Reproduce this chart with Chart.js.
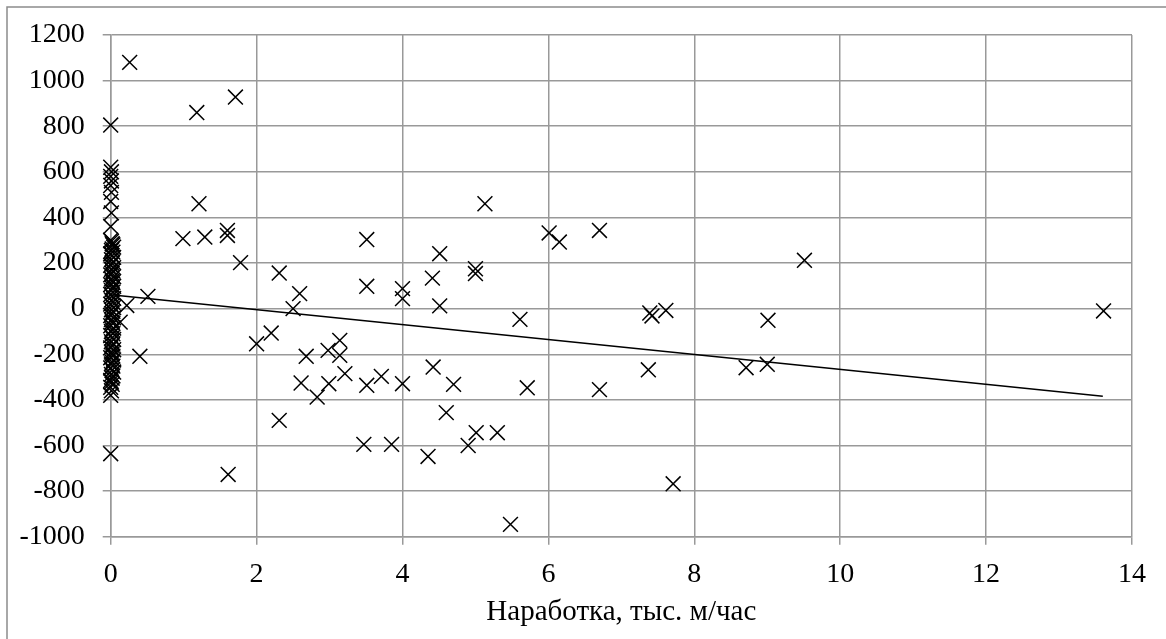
<!DOCTYPE html>
<html lang="ru">
<head>
    <meta charset="UTF-8">
    <title>Наработка</title>
    <script src="https://cdn.jsdelivr.net/npm/chart.js"></script>
    <style>
        html, body { margin: 0; padding: 0; background: #fff; }
        .chart-wrapper { position: relative; width: 1166px; height: 639px; }
    </style>
</head>
<body>
    <div class="chart-wrapper">
        <canvas id="scatterPlot" width="1166" height="639"></canvas>
    </div>

    <script>
        // Points sitting on (or very near) zero hours
        const clusterX = [
            0, 0.01, 0.02, 0.03, 0.04, 0.02, 0.01, 0.03, 0.0, 0.02, 0.04, 0.01, 0.03, 0.02, 0.0, 0.04,
            0.01, 0.03, 0.02, 0.0, 0.04, 0.01, 0.02, 0.03, 0.0, 0.04, 0.02, 0.01, 0.03, 0.0, 0.02, 0.04,
            0.01, 0.03, 0.0, 0.02, 0.04, 0.01, 0.03, 0.02, 0.0, 0.04, 0.01, 0.02, 0.03, 0.0, 0.04, 0.02,
            0.01, 0.03, 0.0, 0.02, 0.04, 0.01, 0.03, 0.02, 0.0, 0.04, 0.01, 0.02, 0.03, 0.0, 0.04, 0.02,
            0.01, 0.03, 0.0, 0.02, 0.04, 0.01, 0.03, 0.02, 0.0, 0.01, 0.02, 0.0, 0.01, 0.0,
            0.0, 0.01, 0.0, 0.01, 0.0, 0.01, 0.0, 0.01, 0.0, 0.0, 0.0
        ];
        const clusterY = [
            300, 295, 285, 280, 270, 262, 255, 248, 240, 232, 225, 215, 205, 198, 190, 180,
            172, 165, 155, 148, 140, 130, 122, 115, 105, 98, 90, 80, 72, 62, 55, 45,
            38, 28, 20, 12, 5, -5, -12, -22, -30, -40, -48, -58, -65, -75, -85, -92,
            -100, -110, -118, -128, -135, -145, -155, -162, -172, -180, -190, -198, -208, -215,
            -225, -235, -242, -252, -260, -270, -278, -288, -295, -305, -315, -322, -332, -345, -360, -380,
            360, 420, 470, 510, 540, 560, 580, 600, 620, 805, -636
        ];

        // The rest of the scatter
        const pointsX = [
            0.26, 1.18, 1.71, 1.21, 0.99, 1.29, 1.60, 1.60, 1.78, 2.31, 2.59, 2.50, 3.51, 3.51, 0.51, 0.22,
            0.13, 0.40, 2.00, 2.20, 2.68, 2.98, 3.14, 3.14, 3.21, 2.61, 2.99, 2.83, 2.31, 3.71, 3.51, 3.47,
            3.85, 1.61, 5.13, 6.01, 6.15, 6.70, 4.51, 4.41, 5.00, 5.00, 4.00, 4.00, 4.51, 5.61, 7.39, 7.42,
            7.61, 9.01, 4.42, 4.00, 4.70, 5.71, 6.70, 7.37, 8.71, 9.00, 4.60, 5.01, 5.30, 4.90, 4.35, 5.48,
            7.71, 9.51, 13.61
        ];
        const pointsY = [
            1080, 860, 928, 460, 307, 314, 343, 321, 202, 156, 66, 0, 303, 98, 54, 14,
            -59, -209, -154, -107, -209, -183, -139, -205, -285, -326, -329, -388, -490, -297, -336, -595,
            -595, -727, 460, 332, 292, 343, 241, 134, 175, 154, 88, 44, 12, -47, -19, -32,
            -8, -51, -256, -329, -332, -347, -355, -268, -259, -244, -456, -544, -544, -600, -648, -946,
            -768, 212, -10
        ];

        // Linear trendline end points
        const trendX = [0, 13.6];
        const trendY = [61, -384];

        const gridColor = '#999999';
        const fontFamily = '"Liberation Serif", "Times New Roman", serif';

        const scatterData = clusterX.map((x, i) => ({ x: x, y: clusterY[i] }))
            .concat(pointsX.map((x, i) => ({ x: x, y: pointsY[i] })));
        const trendData = trendX.map((x, i) => ({ x: x, y: trendY[i] }));

        // Outer frame of the chart (only left and top edges are visible in the picture)
        const framePlugin = {
            id: 'frame',
            beforeDraw(chart) {
                const ctx = chart.ctx;
                ctx.save();
                ctx.fillStyle = '#ffffff';
                ctx.fillRect(0, 0, chart.width, chart.height);
                ctx.strokeStyle = '#8c8c8c';
                ctx.lineWidth = 1.5;
                ctx.beginPath();
                ctx.moveTo(7, chart.height + 2);
                ctx.lineTo(7, 7);
                ctx.lineTo(chart.width + 2, 7);
                ctx.stroke();
                ctx.restore();
            }
        };

        const ctx = document.getElementById('scatterPlot').getContext('2d');
        new Chart(ctx, {
            type: 'scatter',
            data: {
                datasets: [
                    {
                        label: 'data',
                        data: scatterData,
                        pointStyle: 'crossRot',
                        pointRadius: 10.5,
                        pointHoverRadius: 10.5,
                        borderColor: '#000000',
                        backgroundColor: '#000000',
                        pointBorderWidth: 1.5,
                        clip: false,
                        order: 2
                    },
                    {
                        label: 'trend',
                        data: trendData,
                        showLine: true,
                        borderColor: '#000000',
                        borderWidth: 1.6,
                        pointRadius: 0,
                        order: 1
                    }
                ]
            },
            options: {
                responsive: false,
                animation: false,
                layout: {
                    padding: { left: 0, top: 35, right: 34, bottom: 9 }
                },
                plugins: {
                    legend: { display: false },
                    tooltip: { enabled: false }
                },
                scales: {
                    x: {
                        type: 'linear',
                        min: 0,
                        max: 14,
                        ticks: {
                            stepSize: 2,
                            color: '#000000',
                            padding: 13.5,
                            font: { family: fontFamily, size: 28 },
                            callback: (v) => String(v)
                        },
                        grid: {
                            color: gridColor,
                            lineWidth: 1.5,
                            tickLength: 8
                        },
                        border: { color: gridColor, width: 1.5 },
                        title: {
                            display: true,
                            text: 'Наработка, тыс. м/час',
                            color: '#000000',
                            padding: { top: 0, bottom: 0 },
                            font: { family: fontFamily, size: 29 }
                        },
                        afterFit(scale) { scale.height = 93.3; }
                    },
                    y: {
                        type: 'linear',
                        min: -1000,
                        max: 1200,
                        ticks: {
                            stepSize: 200,
                            color: '#000000',
                            padding: 18,
                            font: { family: fontFamily, size: 28 },
                            callback: (v) => String(v)
                        },
                        grid: {
                            color: gridColor,
                            lineWidth: 1.5,
                            tickLength: 8
                        },
                        border: { color: gridColor, width: 1.5 },
                        afterFit(scale) { scale.width = 110.7; }
                    }
                }
            },
            plugins: [framePlugin]
        });
    </script>
</body>
</html>
